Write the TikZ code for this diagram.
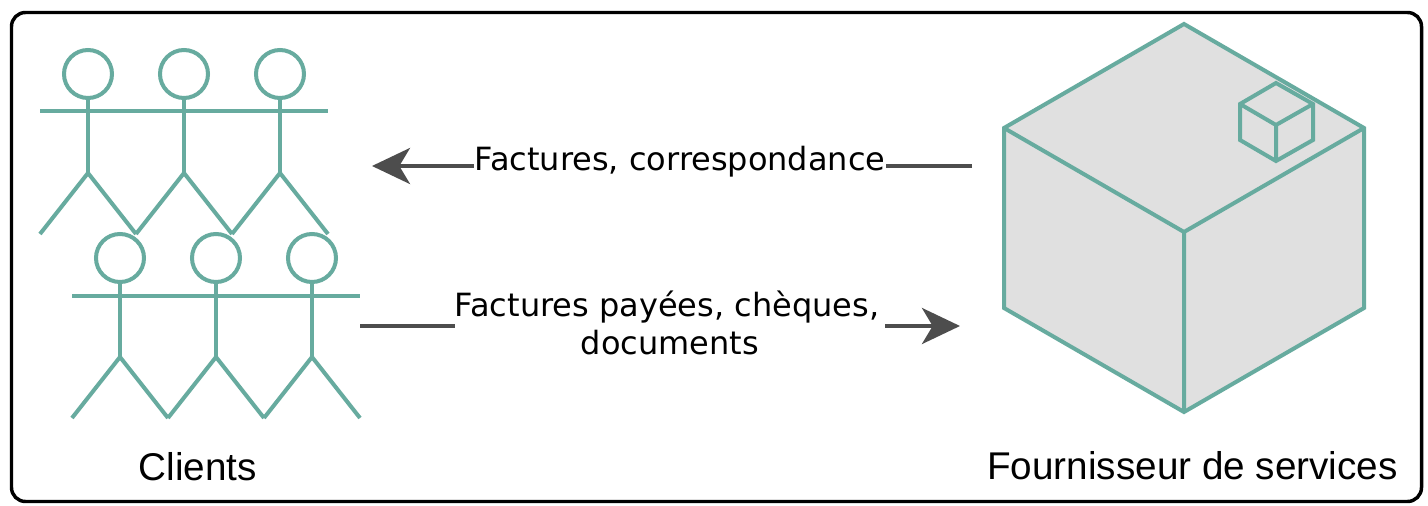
\documentclass[tikz,border=0pt]{standalone}
\usepackage{fontspec}
\setmainfont{Liberation Sans}
\newfontfamily\labelfont{DejaVu Sans}
\usetikzlibrary{arrows.meta,shapes.geometric}
\definecolor{teal1}{HTML}{67AB9F}
\definecolor{cubegray}{HTML}{E0E0E0}
\definecolor{arrowgray}{HTML}{4D4D4D}
\tikzset{
  x=0.75pt,y=-0.75pt,
  tealline/.style={draw=teal1,line width=3pt,line join=miter},
  cubeface/.style={tealline,fill=cubegray},
  flow/.style={draw=arrowgray,line width=3pt,-{Stealth[length=28.5pt,width=27pt,inset=8pt]}},
  flowlabel/.style={font=\labelfont\fontsize{24}{29}\selectfont,fill=white,inner sep=0pt,align=center,text=black},
  caption/.style={font=\fontsize{29}{34}\selectfont,inner sep=0pt,text=black}
}
\newcommand{\stick}[2]{%
  \draw[tealline] (#1,#2) ellipse [x radius=24,y radius=24];
  \draw[tealline] (#1,#2+24) -- (#1,#2+99);
  \draw[tealline] (#1-48,#2+160) -- (#1,#2+99) -- (#1+48,#2+160);
}
\begin{document}
\begin{tikzpicture}
\useasboundingbox (0,0) rectangle (1428,506);
\fill[white] (0,0) rectangle (1428,506);
\draw[black,line width=2.6pt,rounded corners=10.5pt] (11.5,12.5) rectangle (1421.5,501.5);
% clients
\stick{88}{74}\stick{184}{74}\stick{280}{74}
\draw[tealline] (40,111) -- (328,111);
\stick{120}{258}\stick{216}{258}\stick{312}{258}
\draw[tealline] (72,296) -- (360,296);
% cube
\draw[cubeface] (1184,24) -- (1364,128) -- (1364,308) -- (1184,412) -- (1004,308) -- (1004,128) -- cycle;
\draw[tealline] (1004,128) -- (1184,232) -- (1364,128) (1184,232) -- (1184,412);
\draw[tealline] (1276,83) -- (1313,104) -- (1313,140) -- (1276,161) -- (1240,140) -- (1240,104) -- cycle;
\draw[tealline] (1240,104) -- (1276,125) -- (1313,104) (1276,125) -- (1276,161);
% connectors
\coordinate (srcA) at (972,166);
\coordinate (dstA) at (372,166);
\coordinate (srcB) at (360,326);
\coordinate (dstB) at (960,326);
\draw[flow] (srcA) -- (dstA);
\draw[flow] (srcB) -- (dstB);
\node[flowlabel,minimum width=309pt] (la) at (680,162) {Factures, correspondance};
\node[flowlabel,minimum width=322.5pt] (lb) at (670,323) {Factures payées, chèques,\kern 4.5pt\\documents};
\node[caption] (cl) at (198,467) {Clients};
\node[caption] (cf) at (1192.5,466) {Fournisseur de services};
\end{tikzpicture}
\end{document}
